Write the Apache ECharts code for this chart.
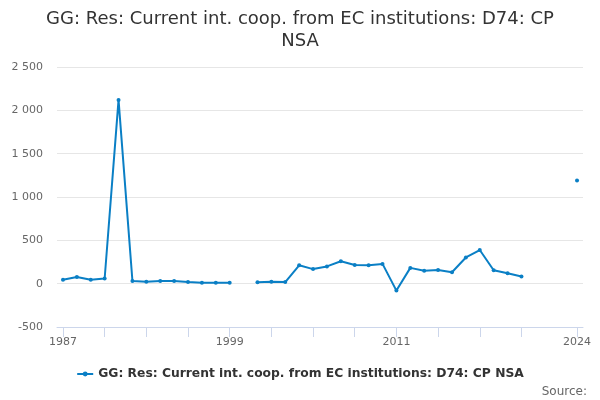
<!DOCTYPE html>
<html>
<head>
<meta charset="utf-8">
<script src="https://cdn.jsdelivr.net/npm/echarts@6/dist/echarts.min.js"></script>
<style>html,body{margin:0;padding:0;background:#fff}#c{width:600px;height:400px}</style>
</head>
<body>
<div id="c"></div>
<script>
var titleText = "GG: Res: Current int. coop. from EC institutions: D74: CP\nNSA";
var seriesName = "GG: Res: Current int. coop. from EC institutions: D74: CP NSA";
var years = [1987,1988,1989,1990,1991,1992,1993,1994,1995,1996,1997,1998,1999,2000,2001,2002,2003,2004,2005,2006,2007,2008,2009,2010,2011,2012,2013,2014,2015,2016,2017,2018,2019,2020,2021,2022,2023,2024];
var values = [45,78,45,60,2120,31,23,32,30,19,11,11,10,null,15,22,19,212,168,199,258,216,213,228,-80,182,148,158,132,302,388,155,120,82,null,null,null,1190];
var tickYears = [1987,1990,1993,1996,1999,2002,2005,2008,2011,2014,2017,2020,2024];
var labelYears = [1987,1999,2011,2024];
var sourceText = "Source:";

var data = years.map(function(y,i){ return [y, values[i]]; });
var chart = echarts.init(document.getElementById('c'));
chart.setOption({
  animation: false,
  textStyle: { fontFamily: 'DejaVu Sans' },
  title: [{
    text: titleText, left: 'center', top: 8, padding: 0,
    textStyle: { fontSize: 18, fontWeight: 'normal', color: '#333', lineHeight: 22, fontFamily: 'DejaVu Sans' }
  },{
    text: sourceText, right: 13, bottom: 2, padding: 0,
    textStyle: { fontSize: 12, fontWeight: 'normal', color: '#666', fontFamily: 'DejaVu Sans' }
  }],
  legend: {
    bottom: 15, left: 'center', itemWidth: 16, itemHeight: 6, itemGap: 8,
    textStyle: { fontSize: 12.3, fontWeight: 'bold', color: '#333', fontFamily: 'DejaVu Sans' }
  },
  grid: { left: 57, right: 17, top: 67, bottom: 73, containLabel: false },
  xAxis: {
    type: 'value', min: 1986.57, max: 2024.43,
    axisLine: { onZero: false, lineStyle: { color: '#ccd6eb' } },
    axisTick: { show: true, length: 10, customValues: tickYears, lineStyle: { color: '#ccd6eb' } },
    axisLabel: { customValues: labelYears, color: '#666', fontSize: 11, margin: 10, formatter: function(v){ return String(Math.round(v)); } },
    splitLine: { show: false }
  },
  yAxis: {
    type: 'value', min: -500, max: 2500, interval: 500,
    axisLine: { show: false }, axisTick: { show: false },
    axisLabel: { color: '#666', fontSize: 11, margin: 14, formatter: function(v){ return String(v).replace(/\B(?=(\d{3})+(?!\d))/g, ' '); } },
    splitLine: { lineStyle: { color: '#e6e6e6' } }
  },
  series: [{
    name: seriesName, type: 'line', data: data,
    connectNulls: false, showSymbol: true, symbol: 'circle', symbolSize: 4,
    lineStyle: { color: '#0a7fc5', width: 2 }, itemStyle: { color: '#0a7fc5' },
    emphasis: { disabled: true }
  }]
});
</script>
</body>
</html>
